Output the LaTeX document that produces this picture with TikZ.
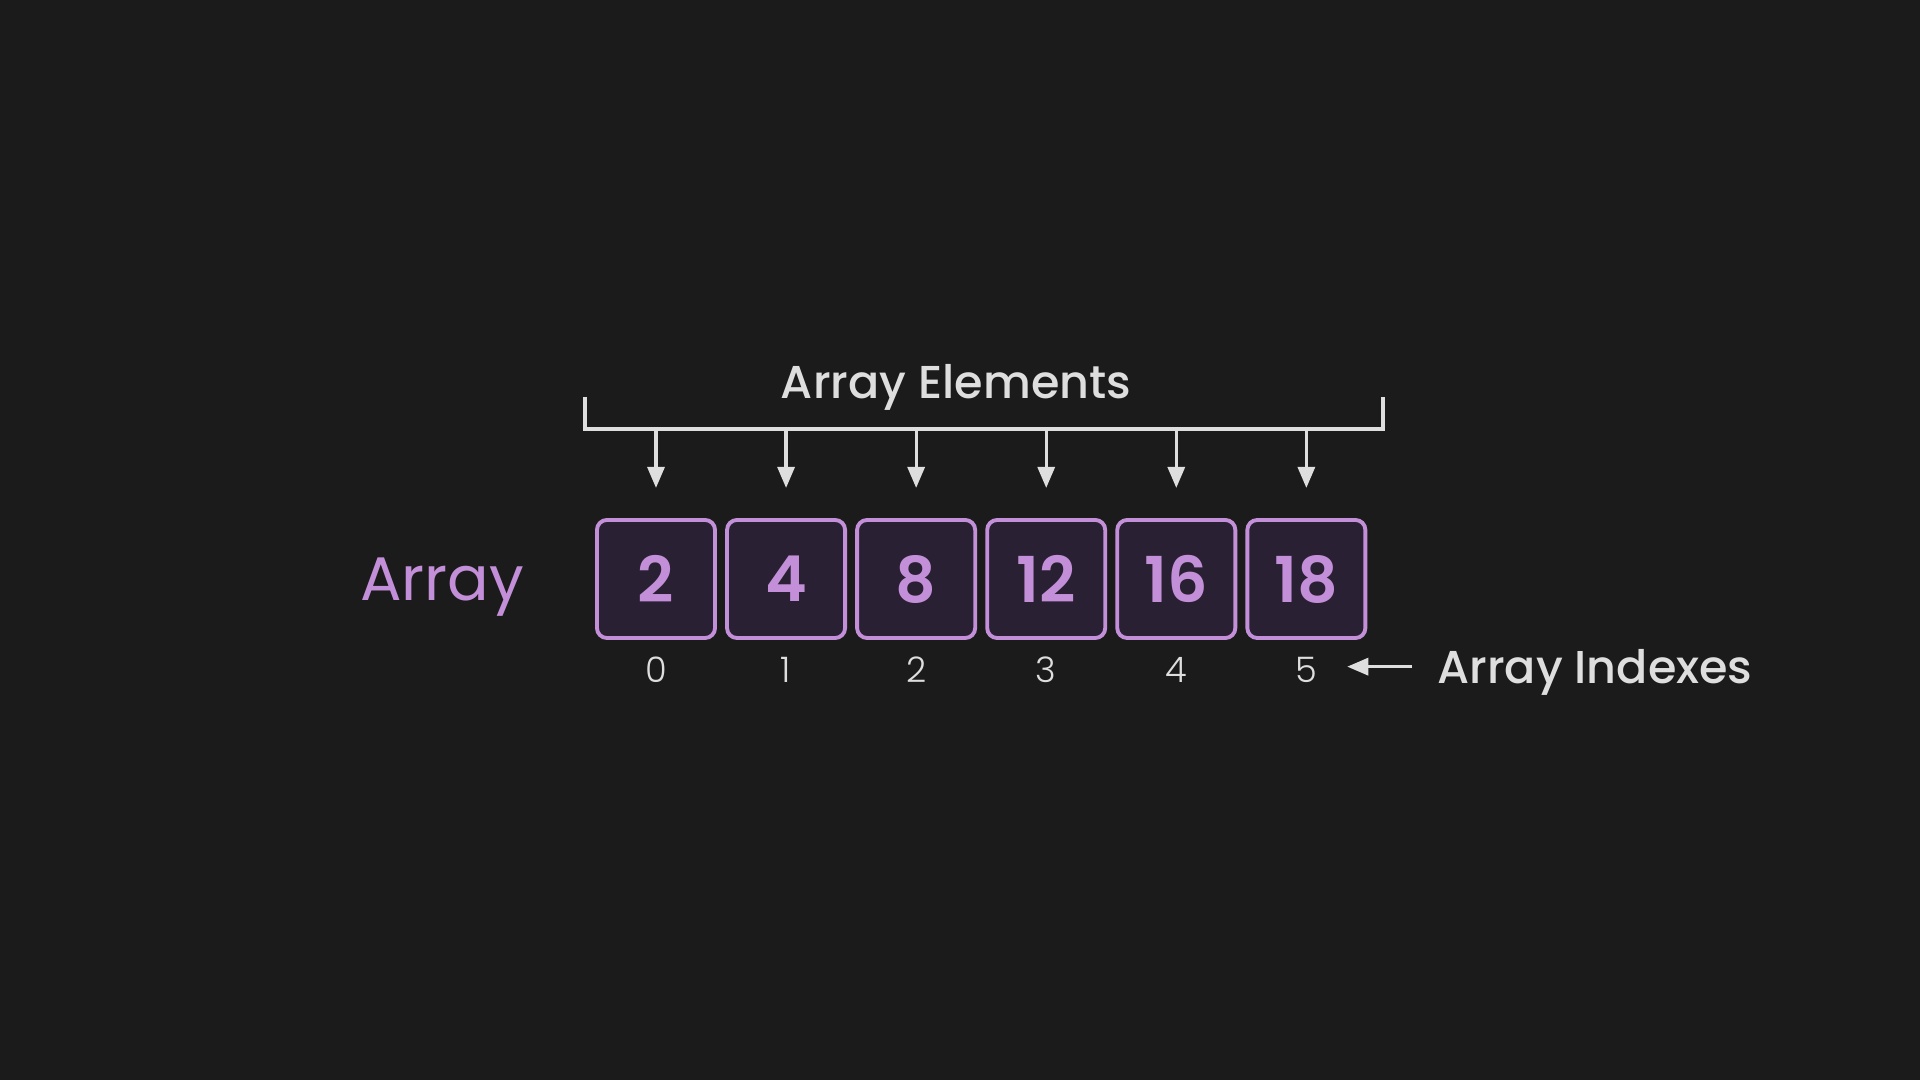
\documentclass[tikz,border=0pt]{standalone}
\usepackage{fontspec}
\setmainfont{Poppins}
\newfontfamily\medium{Poppins Medium}
\newfontfamily\semibold{Poppins SemiBold}
\newfontfamily\light{Poppins Light}
\usetikzlibrary{arrows.meta,positioning}
\definecolor{bg}{HTML}{1B1B1B}
\definecolor{cell}{HTML}{2A2033}
\definecolor{lilac}{HTML}{C38FD8}
\definecolor{chalk}{HTML}{DEDEDE}
\tikzset{
  cellbox/.style={draw=lilac,fill=cell,line width=1.1pt,rounded corners=1mm,minimum width=1.18cm,minimum height=1.18cm,inner sep=0pt,outer sep=0pt,text=lilac,font=\semibold\fontsize{18}{18}\selectfont},
  idx/.style={inner sep=0pt,outer sep=0pt,text depth=0pt,text=chalk,font=\light\fontsize{10}{10}\selectfont},
  heading/.style={inner sep=0pt,outer sep=0pt,text depth=0pt,text=chalk,font=\medium\fontsize{13.1}{14}\selectfont},
  arrname/.style={inner sep=0pt,outer sep=0pt,text depth=0pt,text=lilac,font=\fontsize{17.5}{18}\selectfont},
  arrow/.style={-{Triangle[length=2.1mm,width=1.7mm]},line width=0.9pt,color=chalk},
  bar/.style={line width=0.9pt,color=chalk},
}

\begin{document}
\begin{tikzpicture}[x=0.01cm,y=-0.01cm]
    \useasboundingbox[fill=bg] (0,0) rectangle (1920,1080);
    % the cells
    \node[cellbox] (e0) at (656,579) {2};
    \foreach \v [count=\i] in {4,8,12,16,18} {
      \pgfmathtruncatemacro\p{\i-1}
      \node[cellbox,right=1.2mm of e\p] (e\i) {\v};
    }
    \node[arrname,left=7.3mm of e0] (lbl) {Array};
    % bracket over the cells
    \coordinate (bl) at (585,397);
    \coordinate (br) at (1383,397);
    \coordinate (bar) at (0,429);
    \draw[bar] (bl) -- ++(0,32) -| (br);
    \node[heading] (elems) at (956,381) {Array Elements};
    \foreach \i in {0,...,5} {
      \draw[arrow,shorten >=3.2mm] (e\i.north |- bar) -- (e\i.north);
      \node[idx,below=1.9mm of e\i] (n\i) {\i};
    }
    % index note
    \node[heading,right=12mm of n5,yshift=0.3mm] (idxname) {Array Indexes};
    \draw[arrow,shorten <=2.5mm,shorten >=3mm] (idxname.west) -- (idxname.west -| n5.east);
  \end{tikzpicture}
\end{document}
